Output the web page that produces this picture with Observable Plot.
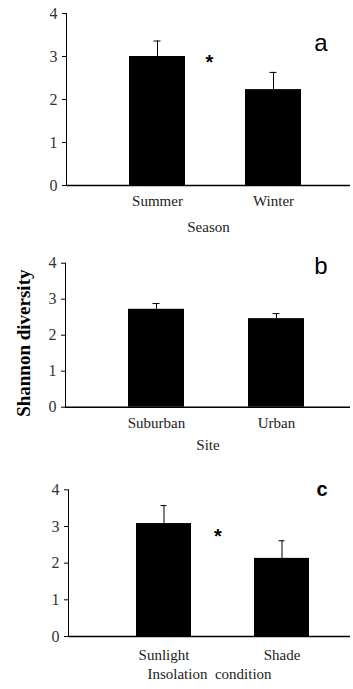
<!DOCTYPE html>
<html>
<head>
<meta charset="utf-8">
<script src="https://cdn.jsdelivr.net/npm/d3@7"></script>
<script src="https://cdn.jsdelivr.net/npm/@observablehq/plot@0.6"></script>
<style>
  body { margin: 0; background: #fff; }
  #chart { position: relative; width: 353px; height: 689px; background: #fff; }
  .panel { position: absolute; left: 0; }
</style>
</head>
<body>
<div id="chart"></div>
<script>
// Panel a: Season
const seasonCats = ["Summer", "Winter"];
const seasonMean = [3.0, 2.23];
const seasonErr = [0.36, 0.40];
// Panel b: Site
const siteCats = ["Suburban", "Urban"];
const siteMean = [2.72, 2.46];
const siteErr = [0.16, 0.14];
// Panel c: Insolation condition
const lightCats = ["Sunlight", "Shade"];
const lightMean = [3.08, 2.13];
const lightErr = [0.49, 0.48];

const yTicks = [0, 1, 2, 3, 4];
const panelLetters = ["a", "b", "c"];
const axisTitles = ["Season", "Site", "Insolation  condition"];
const yTitle = "Shannon diversity";

function table(cats, mean, err) {
  return cats.map((c, i) => ({cat: c, mean: mean[i], upper: mean[i] + err[i]}));
}

function panel(cfg) {
  const data = table(cfg.cats, cfg.mean, cfg.err);
  const marks = [
    Plot.barY(data, {x: "cat", y: "mean", fill: "#000"}),
    Plot.ruleX(data, {x: "cat", y1: "mean", y2: "upper", stroke: "#000", strokeWidth: 1}),
    Plot.tickY(data, {x: "cat", y: "upper", stroke: "#000", strokeWidth: 1, insetLeft: 24.5, insetRight: 24.5}),
    Plot.ruleY([0], {stroke: "#000", strokeWidth: 1.5}),
    Plot.frame({anchor: "left", stroke: "#000", strokeWidth: 1}),
    Plot.axisY({ticks: yTicks, tickFormat: d3.format("d"), tickSize: 4, tickPadding: 5, label: null, fontSize: 16, stroke: "#000", fill: "#333"}),
    Plot.axisX({tickSize: 0, tickPadding: cfg.tickPad, label: null, fontSize: 15, fill: "#222"}),
    Plot.text([cfg.title], {frameAnchor: "bottom", dy: cfg.titleDy, fontSize: 15, fill: "#222"}),
    Plot.text([cfg.letter], {frameAnchor: "top-right", dx: -23, dy: cfg.letterDy, fontSize: cfg.letterSize,
      fontFamily: "Liberation Sans, Arial, sans-serif", fontWeight: cfg.letterWeight, fill: "#000"})
  ];
  if (cfg.star) {
    marks.push(Plot.text([cfg.star], {x: () => cfg.cats[0], y: () => cfg.starY, dx: cfg.starDx, dy: 4,
      text: () => "*", fontSize: 20, fontWeight: "bold", fill: "#000", fontFamily: "Liberation Sans, Arial, sans-serif"}));
  }
  if (cfg.yTitle) {
    marks.push(Plot.text([cfg.yTitle], {frameAnchor: "left", textAnchor: "middle", rotate: -90, dx: -42, dy: 8,
      fontSize: 19, fontWeight: "bold", fill: "#000"}));
  }
  return Plot.plot({
    width: 353,
    height: cfg.height,
    marginTop: cfg.mt,
    marginBottom: cfg.height - cfg.mt - cfg.inner,
    marginLeft: cfg.ml,
    marginRight: 3,
    style: {fontFamily: "Liberation Serif, Times New Roman, serif", fontSize: "15px", color: "#222", background: "#fff", overflow: "visible"},
    x: {domain: cfg.cats, paddingInner: cfg.pi, paddingOuter: cfg.po, align: cfg.align},
    y: {domain: [0, 4]},
    marks
  });
}

const panels = [
  {top: 0, height: 240, mt: 13, inner: 172, ml: 66, cats: seasonCats, mean: seasonMean, err: seasonErr,
   pi: 0.52, po: 0.474, align: 0.56, tickPad: 10, title: axisTitles[0], titleDy: 46,
   letter: panelLetters[0], letterSize: 24, letterWeight: "normal", letterDy: 20, star: "*", starY: 2.95, starDx: 52},
  {top: 240, height: 220, mt: 22.7, inner: 144, ml: 65, cats: siteCats, mean: siteMean, err: siteErr,
   pi: 0.53, po: 0.448, align: 0.58, tickPad: 10, title: axisTitles[1], titleDy: 43,
   letter: panelLetters[1], letterSize: 24, letterWeight: "normal", letterDy: -6, yTitle: yTitle},
  {top: 460, height: 229, mt: 29.3, inner: 146.7, ml: 68, cats: lightCats, mean: lightMean, err: lightErr,
   pi: 0.53, po: 0.45, align: 0.626, tickPad: 13, title: axisTitles[2], titleDy: 42,
   letter: panelLetters[2], letterSize: 20, letterWeight: "bold", letterDy: -8, star: "*", starY: 2.84, starDx: 54}
];

const chart = document.getElementById("chart");
for (const p of panels) {
  const wrap = document.createElement("div");
  wrap.className = "panel";
  wrap.style.top = p.top + "px";
  wrap.appendChild(panel(p));
  chart.appendChild(wrap);
}
</script>
</body>
</html>
